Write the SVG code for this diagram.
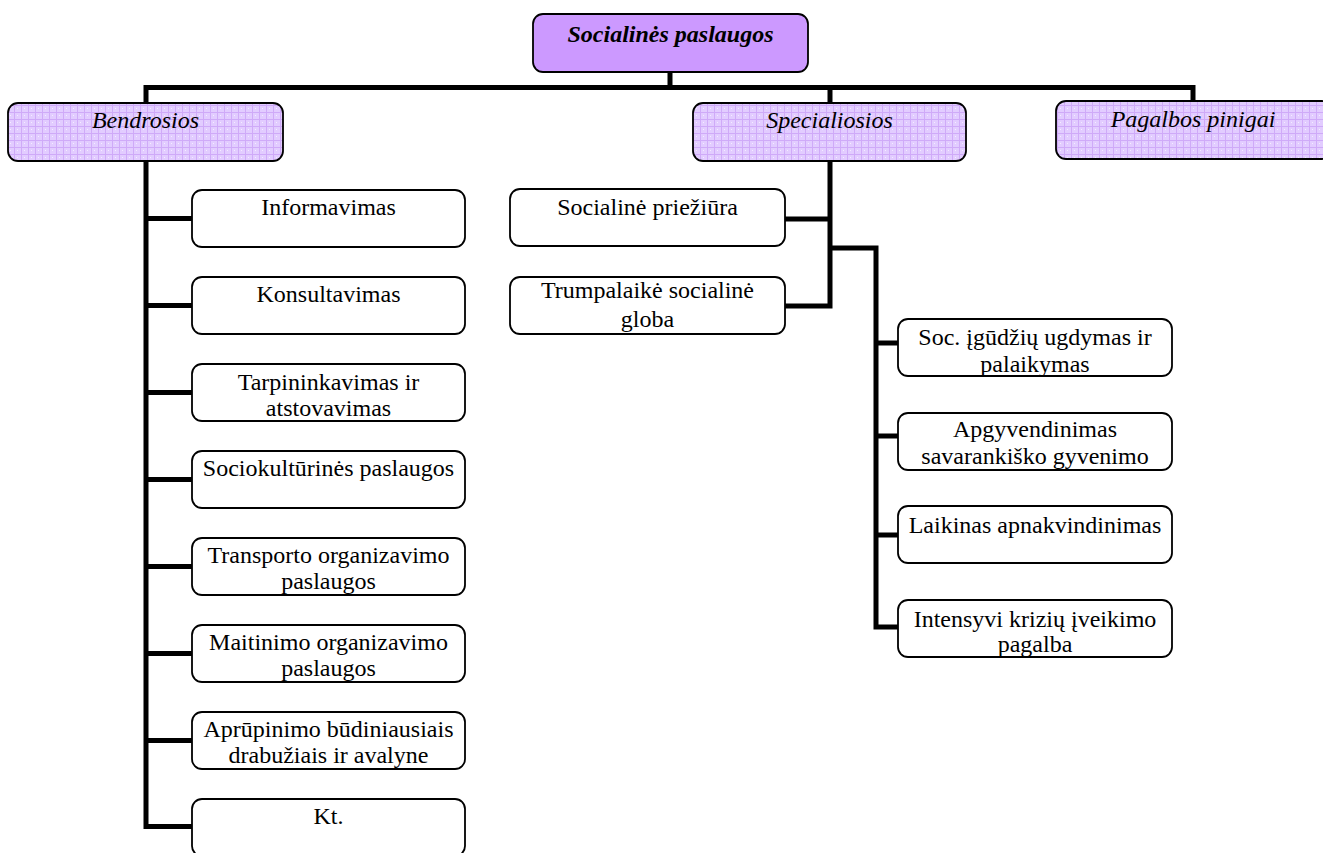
<svg xmlns="http://www.w3.org/2000/svg" width="1323" height="853" viewBox="0 0 1323 853">
<style>
.box{fill:#fff;stroke:#000;stroke-width:1.8}
.cat{fill:url(#grid);stroke:#000;stroke-width:1.8}
.root{fill:#CC99FF;stroke:#000;stroke-width:1.8}
.t{font-family:"Liberation Serif","Times New Roman",serif;font-size:24px;text-anchor:middle;fill:#000}
.i{font-style:italic}
.b{font-weight:bold}
.conn{fill:none;stroke:#000;stroke-width:5;stroke-linejoin:miter}
</style>
<defs>
<pattern id="grid" width="7" height="7" patternUnits="userSpaceOnUse">
<rect width="7" height="7" fill="#E2CCFF"/>
<path d="M0 0.5H7M0.5 0V7" stroke="#CFAAF8" stroke-width="1"/>
<rect x="3" y="3" width="1" height="1" fill="#F4ECFF"/>
</pattern>
<clipPath id="c-tarp"><rect x="192" y="364" width="273" height="56"/></clipPath>
<clipPath id="c-trans"><rect x="192" y="538" width="273" height="56"/></clipPath>
<clipPath id="c-mait"><rect x="192" y="625" width="273" height="56"/></clipPath>
<clipPath id="c-apr"><rect x="192" y="712" width="273" height="56"/></clipPath>
<clipPath id="c-trump"><rect x="510" y="277" width="275" height="56"/></clipPath>
<clipPath id="c-soc"><rect x="898" y="319" width="274" height="56"/></clipPath>
<clipPath id="c-apg"><rect x="898" y="413" width="274" height="56"/></clipPath>
<clipPath id="c-int"><rect x="898" y="600" width="274" height="56"/></clipPath>
</defs>
<rect width="1323" height="853" fill="#fff"/>

<g id="connectors" class="conn">
<path d="M670 72V87.5"/>
<path d="M146 103V87.5H1193V101"/>
<path d="M830 87.5V103"/>
<path d="M146 161V826.5H192"/>
<path d="M146 218.5H192M146 305.5H192M146 392.5H192M146 479.5H192M146 566.5H192M146 653.5H192M146 740.5H192"/>
<path d="M830 161V306H785M785 219H830M830 248H876V627H898"/>
<path d="M876 343H898M876 436H898M876 535H898"/>
</g>

<g id="n-root"><rect class="root" x="533" y="14" width="275" height="58" rx="10"/><text class="t i b" x="670.5" y="42">Socialinės paslaugos</text></g>
<g id="n-bendrosios"><rect class="cat" x="8" y="103" width="275" height="58" rx="10"/><text class="t i" x="145.5" y="128">Bendrosios</text></g>
<g id="n-specialiosios"><rect class="cat" x="693" y="103" width="273" height="58" rx="10"/><text class="t i" x="829.5" y="128">Specialiosios</text></g>
<g id="n-pagalbos"><rect class="cat" x="1056" y="101" width="276" height="58" rx="10"/><text class="t i" x="1193" y="127">Pagalbos pinigai</text></g>

<g id="n-informavimas"><rect class="box" x="192" y="190" width="273" height="57" rx="10"/><text class="t" x="328.5" y="215">Informavimas</text></g>
<g id="n-konsultavimas"><rect class="box" x="192" y="277" width="273" height="57" rx="10"/><text class="t" x="328.5" y="302">Konsultavimas</text></g>
<g id="n-tarpininkavimas"><rect class="box" x="192" y="364" width="273" height="57" rx="10"/><text class="t" clip-path="url(#c-tarp)"><tspan x="328.5" y="390">Tarpininkavimas ir</tspan><tspan x="328.5" y="416">atstovavimas</tspan></text></g>
<g id="n-sociokulturines"><rect class="box" x="192" y="451" width="273" height="57" rx="10"/><text class="t" x="328.5" y="476">Sociokultūrinės paslaugos</text></g>
<g id="n-transporto"><rect class="box" x="192" y="538" width="273" height="57" rx="10"/><text class="t" clip-path="url(#c-trans)"><tspan x="328.5" y="563">Transporto organizavimo</tspan><tspan x="328.5" y="589">paslaugos</tspan></text></g>
<g id="n-maitinimo"><rect class="box" x="192" y="625" width="273" height="57" rx="10"/><text class="t" clip-path="url(#c-mait)"><tspan x="328.5" y="650">Maitinimo organizavimo</tspan><tspan x="328.5" y="676">paslaugos</tspan></text></g>
<g id="n-aprupinimo"><rect class="box" x="192" y="712" width="273" height="57" rx="10"/><text class="t" clip-path="url(#c-apr)"><tspan x="328.5" y="737">Aprūpinimo būdiniausiais</tspan><tspan x="328.5" y="763">drabužiais ir avalyne</tspan></text></g>
<g id="n-kt"><rect class="box" x="192" y="799" width="273" height="57" rx="10"/><text class="t" x="328.5" y="824">Kt.</text></g>

<g id="n-prieziura"><rect class="box" x="510" y="189" width="275" height="57" rx="10"/><text class="t" x="647.5" y="215">Socialinė priežiūra</text></g>
<g id="n-trumpalaike"><rect class="box" x="510" y="277" width="275" height="57" rx="10"/><text class="t" clip-path="url(#c-trump)"><tspan x="647.5" y="298">Trumpalaikė socialinė</tspan><tspan x="647.5" y="327">globa</tspan></text></g>

<g id="n-igudziu"><rect class="box" x="898" y="319" width="274" height="57" rx="10"/><text class="t" clip-path="url(#c-soc)"><tspan x="1035" y="345">Soc. įgūdžių ugdymas ir</tspan><tspan x="1035" y="372">palaikymas</tspan></text></g>
<g id="n-apgyvendinimas"><rect class="box" x="898" y="413" width="274" height="57" rx="10"/><text class="t" clip-path="url(#c-apg)"><tspan x="1035" y="437">Apgyvendinimas</tspan><tspan x="1035" y="464">savarankiško gyvenimo</tspan></text></g>
<g id="n-laikinas"><rect class="box" x="898" y="506" width="274" height="57" rx="10"/><text class="t" x="1035" y="533">Laikinas apnakvindinimas</text></g>
<g id="n-intensyvi"><rect class="box" x="898" y="600" width="274" height="57" rx="10"/><text class="t" clip-path="url(#c-int)"><tspan x="1035" y="627">Intensyvi krizių įveikimo</tspan><tspan x="1035" y="652">pagalba</tspan></text></g>
</svg>
